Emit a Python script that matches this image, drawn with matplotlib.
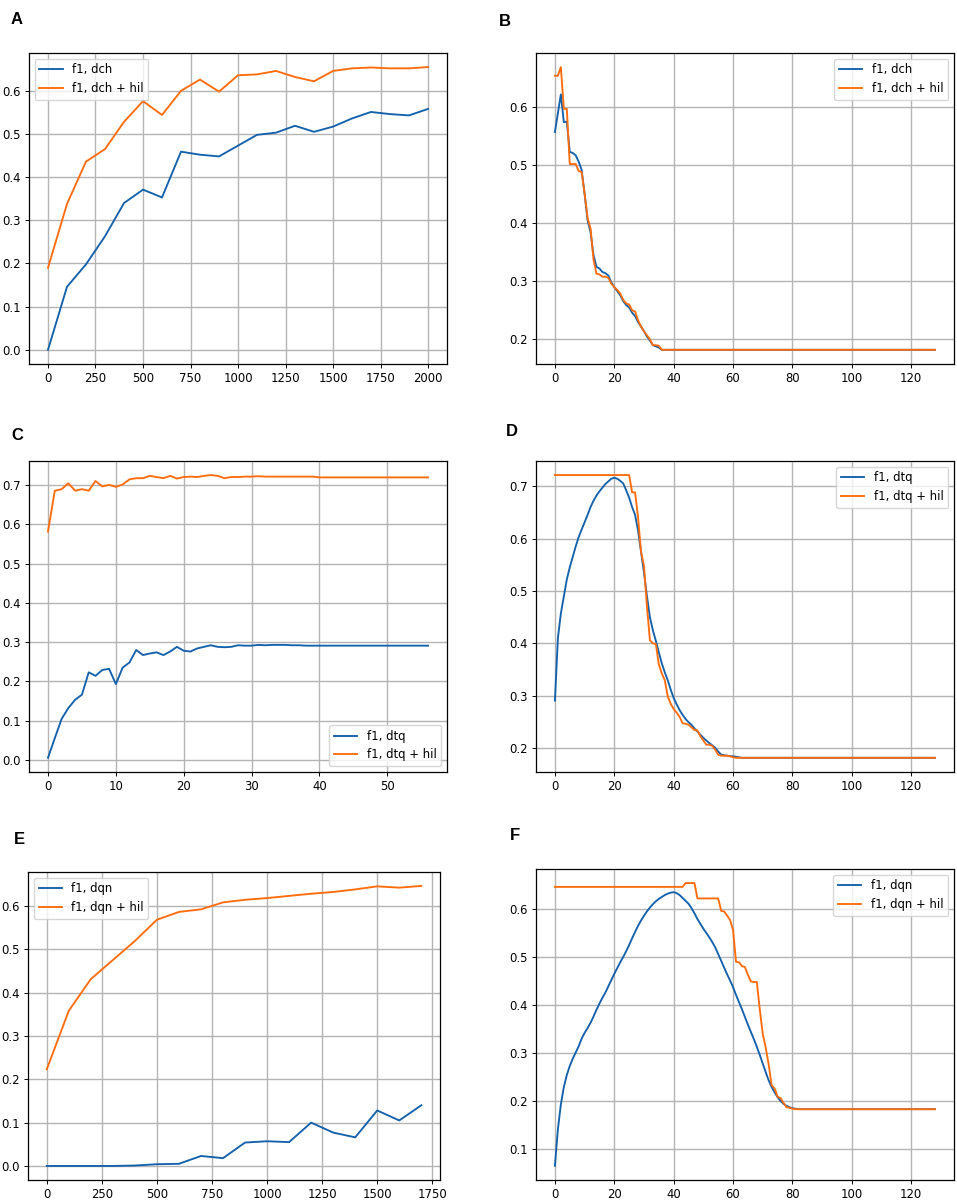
import matplotlib
matplotlib.use("Agg")
import matplotlib.pyplot as plt

BLUE = "#1461ab"
ORANGE = "#ff6c0c"

# ---- Panel A: dch vs dch + hil ----
a_x = list(range(0, 2001, 100))
a_dch = [0.0, 0.146, 0.198, 0.263, 0.340, 0.371, 0.353, 0.459, 0.452, 0.448, 0.473,
         0.498, 0.503, 0.519, 0.505, 0.517, 0.536, 0.551, 0.546, 0.543, 0.558]
a_hil = [0.190, 0.338, 0.436, 0.465, 0.528, 0.576, 0.544, 0.600, 0.626, 0.598, 0.636,
         0.638, 0.646, 0.632, 0.622, 0.646, 0.652, 0.654, 0.652, 0.652, 0.655]

# ---- Panel B ----
b_x = list(range(0, 129))
b_dch = [0.557, 0.590, 0.622, 0.574, 0.575, 0.523, 0.521, 0.517, 0.506, 0.492,
         0.450, 0.405, 0.385, 0.345, 0.325, 0.322, 0.316, 0.314, 0.310, 0.298,
         0.290, 0.283, 0.276, 0.266, 0.259, 0.255, 0.246, 0.240, 0.230, 0.222,
         0.214, 0.205, 0.198, 0.190, 0.188, 0.186] + [0.182] * 93
b_hil = [0.654, 0.654, 0.669, 0.597, 0.597, 0.502, 0.502, 0.502, 0.490, 0.488,
         0.451, 0.409, 0.391, 0.337, 0.313, 0.312, 0.308, 0.308, 0.306, 0.296,
         0.290, 0.285, 0.279, 0.268, 0.262, 0.260, 0.250, 0.248, 0.233, 0.222,
         0.214, 0.207, 0.200, 0.190, 0.190, 0.189] + [0.182] * 93

# ---- Panel C ----
c_x = list(range(0, 57))
c_dtq = [0.005, 0.055, 0.104, 0.132, 0.153, 0.166, 0.223, 0.214, 0.229, 0.232,
         0.193, 0.235, 0.248, 0.280, 0.267, 0.271, 0.274, 0.267, 0.276, 0.288,
         0.278, 0.276, 0.284, 0.288, 0.292, 0.288, 0.287, 0.288, 0.292, 0.291,
         0.291, 0.293, 0.292, 0.293, 0.293, 0.293, 0.292, 0.292] + [0.291] * 19
c_hil = [0.582, 0.686, 0.690, 0.705, 0.686, 0.690, 0.686, 0.711, 0.697, 0.701,
         0.696, 0.702, 0.715, 0.718, 0.718, 0.724, 0.721, 0.718, 0.724, 0.717,
         0.721, 0.722, 0.721, 0.724, 0.726, 0.724, 0.718, 0.721, 0.721, 0.722,
         0.722, 0.723, 0.722, 0.722, 0.722, 0.722, 0.722, 0.722, 0.722, 0.722] + [0.720] * 17

# ---- Panel D ----
d_x = list(range(0, 129))
d_dtq = [0.291, 0.410, 0.457, 0.490, 0.522, 0.545, 0.565, 0.585, 0.603, 0.617,
         0.631, 0.645, 0.660, 0.672, 0.682, 0.690, 0.697, 0.704, 0.709, 0.714,
         0.716, 0.714, 0.710, 0.705, 0.692, 0.678, 0.660, 0.645, 0.615, 0.575,
         0.535, 0.490, 0.450, 0.425, 0.405, 0.383, 0.362, 0.345, 0.330, 0.312,
         0.296, 0.284, 0.273, 0.264, 0.256, 0.250, 0.245, 0.238, 0.232, 0.226,
         0.220, 0.215, 0.210, 0.206, 0.201, 0.194, 0.188, 0.187, 0.186, 0.185,
         0.185, 0.184, 0.183] + [0.182] * 66
d_hil = [0.721] * 26 + [
         0.688, 0.688, 0.640, 0.575, 0.548, 0.470, 0.406, 0.400, 0.399, 0.360,
         0.343, 0.330, 0.299, 0.285, 0.275, 0.268, 0.260, 0.248, 0.247, 0.245,
         0.240, 0.235, 0.234, 0.223, 0.215, 0.207, 0.207, 0.205, 0.197, 0.188,
         0.186, 0.186, 0.186, 0.185, 0.183] + [0.182] * 68

# ---- Panel E ----
e_x = list(range(0, 1701, 100))
e_dqn = [0.0, 0.0, 0.0, 0.0, 0.001, 0.004, 0.005, 0.023, 0.018, 0.054,
         0.057, 0.055, 0.100, 0.077, 0.066, 0.128, 0.105, 0.140]
e_hil = [0.223, 0.358, 0.431, 0.475, 0.519, 0.568, 0.586, 0.592, 0.608, 0.614,
         0.618, 0.623, 0.628, 0.632, 0.638, 0.645, 0.642, 0.646]

# ---- Panel F ----
f_x = list(range(0, 129))
f_dqn = [0.064, 0.140, 0.192, 0.228, 0.253, 0.272, 0.287, 0.300, 0.313, 0.329,
         0.341, 0.351, 0.362, 0.375, 0.389, 0.402, 0.414, 0.425, 0.438, 0.451,
         0.464, 0.476, 0.488, 0.499, 0.511, 0.524, 0.538, 0.551, 0.564, 0.575,
         0.585, 0.594, 0.602, 0.609, 0.615, 0.620, 0.624, 0.628, 0.631, 0.633,
         0.634, 0.632, 0.628, 0.622, 0.616, 0.610, 0.601, 0.590, 0.578, 0.568,
         0.558, 0.549, 0.540, 0.530, 0.519, 0.505, 0.491, 0.477, 0.463, 0.450,
         0.436, 0.420, 0.405, 0.390, 0.374, 0.358, 0.343, 0.328, 0.312, 0.295,
         0.277, 0.259, 0.242, 0.228, 0.217, 0.207, 0.199, 0.193, 0.189, 0.186,
         0.184, 0.183] + [0.182] * 47
f_hil = [0.645] * 44 + [0.653, 0.653, 0.653, 0.653] + [0.621] * 8 + [
         0.595, 0.594, 0.585, 0.576, 0.555, 0.489, 0.488, 0.480, 0.478, 0.462,
         0.448, 0.447, 0.447, 0.390, 0.339, 0.310, 0.275, 0.232, 0.225, 0.208,
         0.205, 0.195, 0.186, 0.185, 0.183] + [0.182] * 48

panels = [
    ("A", a_x, a_dch, a_hil, "dch", "upper left", [0.0303, 0.6967, 0.4368, 0.2592], (17, 20)),
    ("B", b_x, b_dch, b_hil, "dch", "upper right", [0.5600, 0.6967, 0.4368, 0.2592], (505, 22)),
    ("C", c_x, c_dtq, c_hil, "dtq", "lower right", [0.0303, 0.3567, 0.4368, 0.2592], (17, 436)),
    ("D", d_x, d_dtq, d_hil, "dtq", "upper right", [0.5600, 0.3567, 0.4368, 0.2592], (512, 432)),
    ("E", e_x, e_dqn, e_hil, "dqn", "upper left", [0.0293, 0.0167, 0.4305, 0.2567], (19, 840)),
    ("F", f_x, f_dqn, f_hil, "dqn", "upper right", [0.5600, 0.0167, 0.4368, 0.2592], (515, 835)),
]

S = 0.84  # overall scale of the original figure
plt.rcParams.update({
    "font.size": 10 * S,
    "xtick.major.size": 3.5 * S,
    "ytick.major.size": 3.5 * S,
    "xtick.major.pad": 3.5 * S,
    "ytick.major.pad": 3.5 * S,
    "xtick.major.width": 0.8 * S,
    "ytick.major.width": 0.8 * S,
    "axes.linewidth": 0.9,
})

W, H = 957, 1200
fig = plt.figure(figsize=(W / 100, H / 100), dpi=100)

for letter, x, y1, y2, name, loc, rect, (lx, ly) in panels:
    ax = fig.add_axes(rect)
    ax.plot(x, y1, color=BLUE, lw=1.35, label=f"f1, {name}")
    ax.plot(x, y2, color=ORANGE, lw=1.35, label=f"f1, {name} + hil")
    ax.grid(True, color="#b4b4b4", lw=1.0)
    ax.set_axisbelow(True)
    ax.tick_params(labelsize=10 * S)
    ax.legend(loc=loc, fontsize=10 * S)
    fig.text(lx / W, 1 - ly / H, letter, fontsize=12, fontweight="bold",
             family="Liberation Sans", ha="center", va="center")

fig.savefig("out.png", dpi=100)
